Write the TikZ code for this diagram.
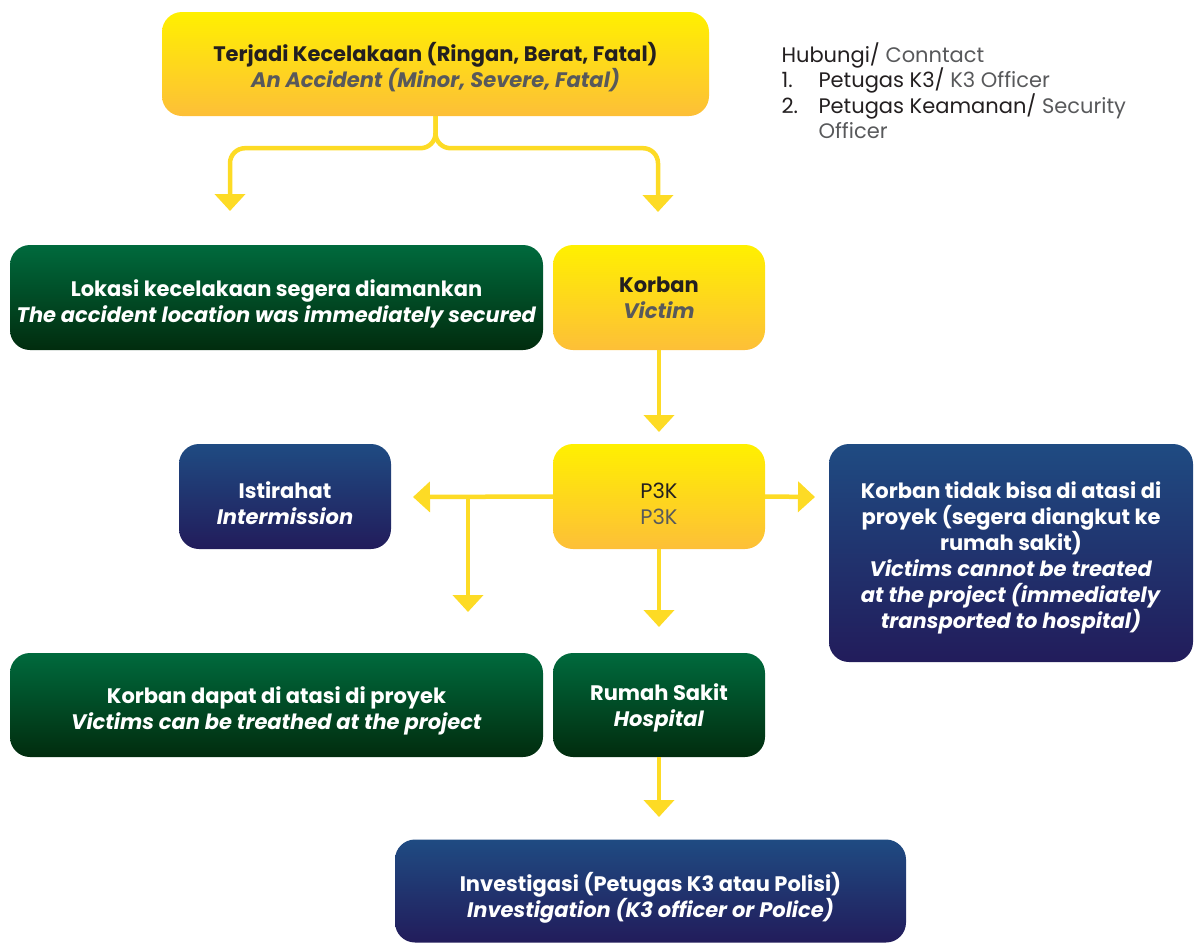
\documentclass[tikz,border=0pt]{standalone}
\usepackage{fontspec}
\setmainfont{Poppins}
\usetikzlibrary{arrows.meta}

\definecolor{ylwtop}{HTML}{FFF000}
\definecolor{ylwbot}{HTML}{FDBF38}
\definecolor{grntop}{HTML}{006A3D}
\definecolor{grnmid}{HTML}{005530}
\definecolor{grnbot}{HTML}{012C0E}
\definecolor{blutop}{HTML}{1F4B82}
\definecolor{blumid}{HTML}{21326D}
\definecolor{blubot}{HTML}{221C5B}
\definecolor{flowclr}{HTML}{FDDB25}
\definecolor{inkclr}{HTML}{231F20}
\definecolor{greyclr}{HTML}{58595B}

\begin{document}
\begin{tikzpicture}[x=1pt,y=-1pt,
    stepbox/.style={rounded corners=20pt,align=center,inner sep=0pt,
      font=\fontsize{21}{26}\selectfont,text depth=0pt},
    ylwbox/.style={stepbox,top color=ylwtop,bottom color=ylwbot,text=inkclr},
    grnbox/.style={stepbox,top color=grntop,middle color=grnmid,bottom color=grnbot,text=white},
    blubox/.style={stepbox,top color=blutop,middle color=blumid,bottom color=blubot,text=white},
    flow/.style={draw=flowclr,line width=4.5pt,-{Triangle[width=30pt,length=17pt]}}]
  \useasboundingbox (0,0) rectangle (1194,943);

  \node[ylwbox,text height=46pt,minimum width=547pt,minimum height=104pt] (accident) at (435.5,64)
    {\textbf{Terjadi Kecelakaan (Ringan, Berat, Fatal)}\\\textcolor{greyclr}{\textbf{\textit{An Accident (Minor, Severe, Fatal)}}}};

  \node[anchor=north west,align=left,text=inkclr,font=\fontsize{21}{25.5}\selectfont] (contact) at (778,39)
    {Hubungi/ \textcolor{greyclr}{Conntact}\\
     \makebox[37pt][l]{1.}Petugas K3/ \textcolor{greyclr}{K3 Officer}\\
     \makebox[37pt][l]{2.}Petugas Keamanan/ \textcolor{greyclr}{Security}\\
     \makebox[37pt][l]{}\textcolor{greyclr}{Officer}};

  \node[grnbox,text height=50.5pt,minimum width=533pt,minimum height=105pt] (secure) at (276.5,297.5)
    {\textbf{Lokasi kecelakaan segera diamankan}\\\textbf{\textit{The accident location was immediately secured}}};
  \node[ylwbox,text height=42.5pt,minimum width=212pt,minimum height=105pt] (victim) at (659,297.5)
    {\textbf{Korban}\\\textcolor{greyclr}{\textbf{\textit{Victim}}}};

  \node[blubox,text height=55.5pt,minimum width=212pt,minimum height=105pt] (rest) at (285,496.5)
    {\textbf{Istirahat}\\\textbf{\textit{Intermission}}};
  \node[ylwbox,text height=55.5pt,minimum width=212pt,minimum height=105pt] (firstaid) at (659,496.5)
    {P3K\\\textcolor{greyclr}{P3K}};
  \node[blubox,text height=151.5pt,minimum width=364pt,minimum height=218pt] (transfer) at (1011,553)
    {\textbf{Korban tidak bisa di atasi di}\\\textbf{proyek (segera diangkut ke}\\\textbf{rumah sakit)}\\
     \textbf{\textit{Victims cannot be treated}}\\\textbf{\textit{at the project (immediately}}\\\textbf{\textit{transported to hospital)}}};

  \node[grnbox,text height=49.5pt,minimum width=533pt,minimum height=104pt] (treated) at (276.5,705)
    {\textbf{Korban dapat di atasi di proyek}\\\textbf{\textit{Victims can be treathed at the project}}};
  \node[grnbox,text height=43.5pt,minimum width=212pt,minimum height=104pt] (hospital) at (659,705)
    {\textbf{Rumah Sakit}\\\textbf{\textit{Hospital}}};

  \node[blubox,text height=53.5pt,minimum width=511pt,minimum height=103pt] (investigate) at (650.5,891)
    {\textbf{Investigasi (Petugas K3 atau Polisi)}\\\textbf{\textit{Investigation (K3 officer or Police)}}};

  % free arrow ends
  \coordinate (splitL) at (230,211);
  \coordinate (splitR) at (658,212);
  \coordinate (victimend) at (659,432);
  \coordinate (restend) at (413,497);
  \coordinate (branch) at (468,497);
  \coordinate (treatend) at (468,612);
  \coordinate (transferend) at (815,497);
  \coordinate (hospend) at (659,627);
  \coordinate (investend) at (659,817);

  \draw[flow,rounded corners=15pt] (accident.south) -- ++(0,32) -| (splitL);
  \draw[flow,rounded corners=15pt] (accident.south) -- ++(0,32) -| (splitR);
  \draw[flow] (victim.south) -- (victimend);
  \draw[flow] (firstaid.west) -- (restend);
  \draw[flow] (branch) -- (treatend);
  \draw[flow] (firstaid.east) -- (transferend);
  \draw[flow] (firstaid.south) -- (hospend);
  \draw[flow] (hospital.south) -- (investend);
\end{tikzpicture}
\end{document}
